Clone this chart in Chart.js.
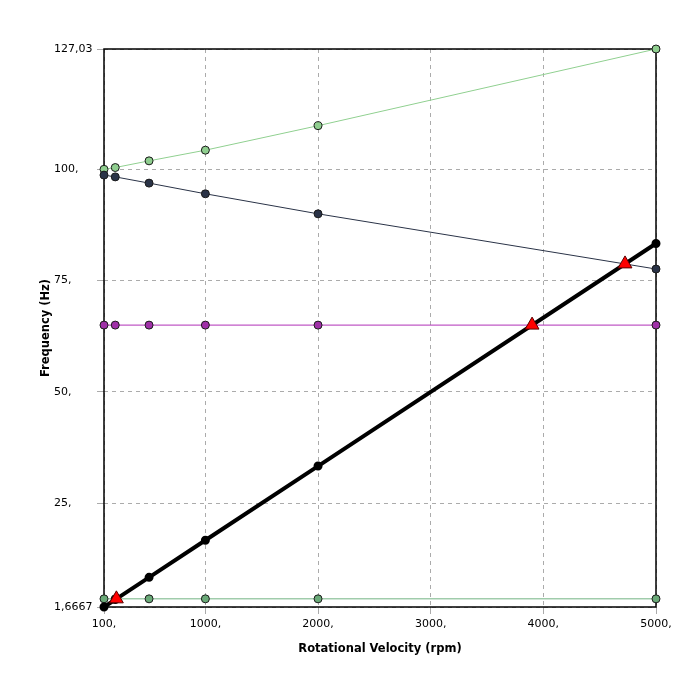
<!DOCTYPE html>
<html lang="en">
<head>
    <meta charset="UTF-8">
    <title>Campbell Diagram</title>
    <script src="https://cdn.jsdelivr.net/npm/chart.js"></script>
    <style>
        html, body { margin: 0; padding: 0; background: #ffffff; }
        .chart-container { width: 700px; height: 700px; }
    </style>
</head>
<body>
    <div class="chart-container">
        <canvas id="campbellChart"></canvas>
    </div>
    <script>
        // rotational velocity (rpm) where modes were solved
        const rpmValues = [100, 200, 500, 1000, 2000, 5000];

        // mode frequencies (Hz)
        const modeUpper = [100.0, 100.4, 101.9, 104.3, 109.8, 127.03];
        const modeBackward = [98.7, 98.3, 96.9, 94.5, 90.0, 77.6];
        const modeFlat = [65.0, 65.0, 65.0, 65.0, 65.0, 65.0];
        const modeLow = [3.5, 3.5, 3.5, 3.5, 3.5, 3.5];
        const excitation1x = [1.6667, 3.3333, 8.3333, 16.667, 33.333, 83.333];

        // critical speed markers
        const criticalRpm = [210, 3900, 4725];
        const criticalHz = [3.5, 65.0, 78.75];

        const xTicks = [100, 1000, 2000, 3000, 4000, 5000];
        const xTickLabels = ['100,', '1000,', '2000,', '3000,', '4000,', '5000,'];
        const yTicks = [1.6667, 25, 50, 75, 100, 127.03];
        const yTickLabels = ['1,6667', '25,', '50,', '75,', '100,', '127,03'];

        const FONT = 'DejaVu Sans';

        function toPoints(xs, ys) {
            return xs.map((x, i) => ({ x: x, y: ys[i] }));
        }

        function lineSet(label, ys, color, fill, order) {
            return {
                label: label,
                data: toPoints(rpmValues, ys),
                showLine: true,
                borderColor: color,
                borderWidth: 1,
                pointRadius: 4,
                pointBackgroundColor: fill,
                pointBorderColor: '#1a1a1a',
                pointBorderWidth: 1,
                clip: false,
                order: order
            };
        }

        // box around plot + rotated y title
        const frame = {
            id: 'frame',
            beforeDatasetsDraw(chart) {
                const a = chart.chartArea;
                const c = chart.ctx;
                c.save();
                c.strokeStyle = '#000000';
                c.lineWidth = 1.5;
                c.strokeRect(a.left, a.top, a.right - a.left, a.bottom - a.top);
                c.restore();
            },
            afterDraw(chart) {
                const a = chart.chartArea;
                const c = chart.ctx;
                c.save();
                c.translate(46, (a.top + a.bottom) / 2);
                c.rotate(-Math.PI / 2);
                c.font = 'bold 11.5px "' + FONT + '"';
                c.fillStyle = '#000000';
                c.textAlign = 'center';
                c.textBaseline = 'middle';
                c.fillText('Frequency (Hz)', 0, 0);
                c.restore();
            }
        };

        const gridOpts = {
            color: '#ababab',
            tickBorderDash: [],
            tickColor: '#ababab',
            tickLength: 7
        };

        const ctx = document.getElementById('campbellChart').getContext('2d');
        const chart = new Chart(ctx, {
            type: 'scatter',
            data: {
                datasets: [
                    {
                        label: 'Critical Speed',
                        data: toPoints(criticalRpm, criticalHz),
                        showLine: false,
                        pointStyle: 'triangle',
                        pointRadius: 8,
                        pointBackgroundColor: '#ff0000',
                        pointBorderColor: '#5a0000',
                        pointBorderWidth: 1,
                        clip: false,
                        order: 0
                    },
                    {
                        label: '1x',
                        data: toPoints(rpmValues, excitation1x),
                        showLine: true,
                        borderColor: '#000000',
                        borderWidth: 4,
                        pointRadius: 2.5,
                        pointBackgroundColor: '#000000',
                        pointBorderColor: '#000000',
                        clip: false,
                        order: 1
                    },
                    lineSet('Mode 1', modeLow, '#72b482', '#6aaa78', 2),
                    lineSet('Mode 2', modeFlat, '#b030b8', '#a030a8', 3),
                    lineSet('Mode 3', modeBackward, '#2a3347', '#2a3347', 4),
                    lineSet('Mode 4', modeUpper, '#90d090', '#8fce8f', 5)
                ]
            },
            options: {
                responsive: true,
                maintainAspectRatio: false,
                animation: false,
                layout: {
                    padding: { left: 54, right: 44, top: 49, bottom: 37 }
                },
                plugins: {
                    legend: { display: false },
                    tooltip: { enabled: false }
                },
                scales: {
                    x: {
                        type: 'linear',
                        min: 100,
                        max: 5000,
                        afterBuildTicks: (scale) => {
                            scale.ticks = xTicks.map(v => ({ value: v }));
                        },
                        afterFit: (scale) => { scale.height = 56; },
                        border: { display: false, dash: [4, 4] },
                        grid: gridOpts,
                        ticks: {
                            padding: 4,
                            color: '#000000',
                            maxRotation: 0,
                            font: { family: FONT, size: 11 },
                            callback: (v) => {
                                const i = xTicks.indexOf(v);
                                return i >= 0 ? xTickLabels[i] : '';
                            }
                        },
                        title: {
                            display: true,
                            text: 'Rotational Velocity (rpm)',
                            color: '#000000',
                            font: { family: FONT, size: 11.5, weight: 'bold' },
                            padding: { top: 0, bottom: 7 }
                        }
                    },
                    y: {
                        type: 'linear',
                        min: 1.6667,
                        max: 127.03,
                        afterBuildTicks: (scale) => {
                            scale.ticks = yTicks.map(v => ({ value: v }));
                        },
                        afterFit: (scale) => { scale.width = 50; },
                        border: { display: false, dash: [4, 4] },
                        grid: gridOpts,
                        ticks: {
                            crossAlign: 'far',
                            padding: 5,
                            color: '#000000',
                            font: { family: FONT, size: 11 },
                            callback: (v) => {
                                const i = yTicks.indexOf(v);
                                return i >= 0 ? yTickLabels[i] : '';
                            }
                        },
                        title: { display: false }
                    }
                }
            },
            plugins: [frame]
        });
    </script>
</body>
</html>
